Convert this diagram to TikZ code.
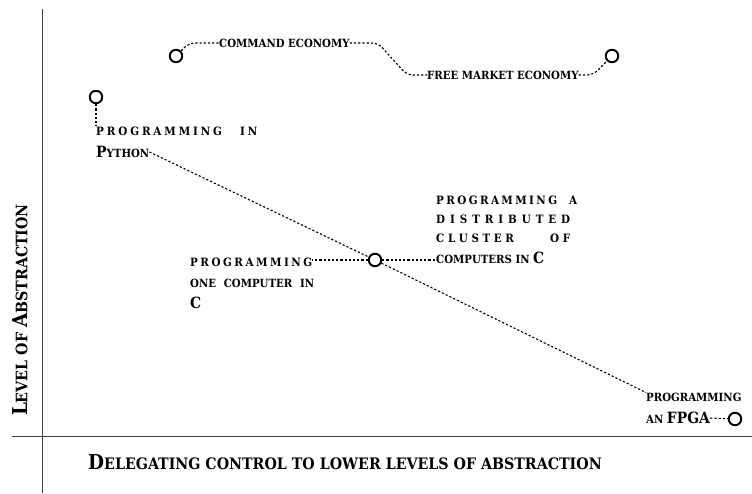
\documentclass[tikz,border=0pt]{standalone}
\usepackage{fontspec}
\setmainfont{DejaVu Serif Condensed}
\newcommand{\smc}[1]{{\fontsize{11.3}{13}\selectfont #1}}
\newcommand{\bgc}[1]{{\fontsize{15.5}{17}\selectfont #1}}
\newcommand{\spc}[2]{\makebox[#1][s]{\fontsize{11.5}{13}\selectfont #2}}
\tikzset{
  dot/.style={draw, circle, line width=1.9pt, minimum size=12.5pt, inner sep=0pt},
  conn/.style={line width=1.1pt, dash pattern=on 2.2pt off 2pt},
  lbl/.style={inner sep=0pt, anchor=west, font=\bfseries},
  axisline/.style={line width=0.9pt, draw=black!75},
}
\begin{document}
\begin{tikzpicture}[x=1pt, y=-1pt]
\useasboundingbox (0,0) rectangle (752,494);
% axes
\coordinate (yt) at (42,9);
\coordinate (yb) at (42,493);
\coordinate (xl0) at (12,436);
\coordinate (xr0) at (752,436);
\draw[axisline] (yt) -- (yb);
\draw[axisline] (xl0) -- (xr0);
\node[lbl] (xlab) at (88,462) {{\fontsize{20.5}{22}\selectfont D}{\fontsize{15.8}{17}\selectfont ELEGATING CONTROL TO LOWER LEVELS OF ABSTRACTION}};
\node[inner sep=0pt, font=\bfseries, rotate=90] (ylab) at (20,310) {{\fontsize{20.5}{22}\selectfont L}{\fontsize{15.8}{17}\selectfont EVEL OF }{\fontsize{20.5}{22}\selectfont A}{\fontsize{15.8}{17}\selectfont BSTRACTION}};
% circles
\node[dot] (c1) at (176,56) {};
\node[dot] (c2) at (612,56) {};
\node[dot] (c3) at (96,97) {};
\node[dot] (c4) at (375,260) {};
\node[dot] (c5) at (735,419) {};
% economy labels
\node[lbl] (cmd) at (219,43) {\smc{COMMAND ECONOMY}};
\node[lbl] (free) at (427,75) {\smc{FREE MARKET ECONOMY}};
\coordinate (k1) at (189,43);
\coordinate (k2) at (378,43);
\coordinate (k3) at (407,75);
\coordinate (k4) at (593,75);
\draw[conn, rounded corners=6pt] (c1.north east) -- (k1) -- (cmd.west);
\draw[conn, rounded corners=6pt] (cmd.east) -- (k2) -- (k3) -- (free.west);
\draw[conn, rounded corners=6pt] (free.east) -- (k4) -- (c2.south west);
% python
\node[lbl] (py1) at (96,131) {\spc{161pt}{P R O G R A M M I N G\hspace{18pt plus 2fil}I N}};
\node[lbl] (py2) at (96,152) {\bgc{P}\smc{YTHON}};
\draw[conn] (c3.south) -- (c3.south |- py1.north);
\draw[conn] (py2.east) -- (c4);
% one computer
\node[lbl] (oc1) at (190,262) {\spc{122pt}{P R O G R A M M I N G}};
\node[lbl] (oc2) at (190,283) {\makebox[124pt][s]{\smc{ONE COMPUTER IN}}};
\node[lbl] (oc3) at (190,303) {\bgc{C}};
\draw[conn] (c4.west) -- (c4.west -| oc1.east);
% distributed
\node[lbl] (d1) at (436,200) {\spc{134pt}{P R O G R A M M I N G\hspace{12pt plus 1fil}A}};
\node[lbl] (d2) at (436,219) {\spc{134pt}{D I S T R I B U T E D}};
\node[lbl] (d3) at (436,238) {\spc{134pt}{C L U S T E R\hspace{20pt plus 3fil}O F}};
\node[lbl] (d4) at (436,258) {\smc{COMPUTERS IN }\bgc{C}};
\draw[conn] (c4.east) -- (c4.east -| d4.west);
% fpga
\node[lbl] (f1) at (646,397) {\smc{PROGRAMMING}};
\node[lbl] (f2) at (646,418) {\smc{AN }\bgc{FPGA}};
\draw[conn] (c4) -- (f1.north west);
\draw[conn] (f2.east) -- (c5);
\end{tikzpicture}
\end{document}
